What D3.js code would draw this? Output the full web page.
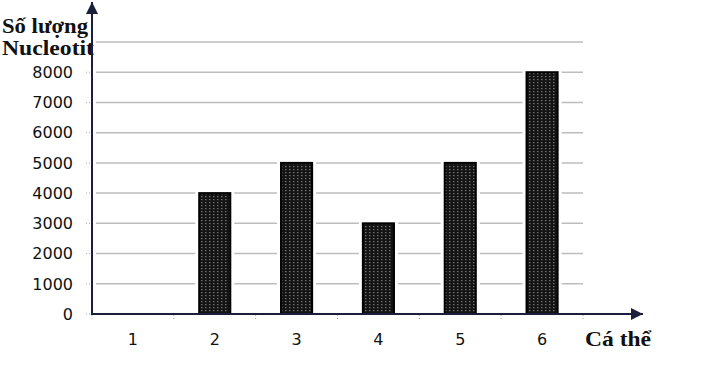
<!DOCTYPE html>
<html lang="vi">
<head>
    <meta charset="UTF-8">
    <title>Số lượng Nucleotit theo cá thể</title>
    <style>
        body { margin: 0; background: #fff; }
        svg { display: block; }
        .tick-label { font-family: "DejaVu Sans", sans-serif; font-size: 16px; fill: #111; }
        .title { font-family: "Liberation Serif", serif; font-weight: bold; font-size: 21px; fill: #111; }
    </style>
    <script src="https://d3js.org/d3.v7.min.js"></script>
</head>
<body>
    <svg width="712" height="368"></svg>
    <script>
        // data
        const categories = ["1", "2", "3", "4", "5", "6"];
        const values = [0, 4000, 5000, 3000, 5000, 8000];
        const yTicks = [0, 1000, 2000, 3000, 4000, 5000, 6000, 7000, 8000];
        const gridValues = [1000, 2000, 3000, 4000, 5000, 6000, 7000, 8000, 9000];

        const svg = d3.select("svg");
        const axisColor = "#1b1f3b";

        const x = d3.scaleBand().domain(categories).range([92, 583]).padding(0);
        const y = d3.scaleLinear().domain([0, 9000]).range([314, 42]);
        const barW = x.bandwidth() * 0.38;

        // pattern for the stippled bars
        const defs = svg.append("defs");
        const pat = defs.append("pattern")
            .attr("id", "dots")
            .attr("patternUnits", "userSpaceOnUse")
            .attr("width", 4)
            .attr("height", 3);
        pat.append("rect").attr("width", 4).attr("height", 3).attr("fill", "#141414");
        pat.append("rect").attr("x", 1).attr("y", 1).attr("width", 1.5).attr("height", 1.2).attr("fill", "#707070");

        defs.append("marker")
            .attr("id", "arrow")
            .attr("viewBox", "0 0 10 10")
            .attr("refX", 10).attr("refY", 5)
            .attr("markerWidth", 7).attr("markerHeight", 6)
            .attr("markerUnits", "strokeWidth")
            .attr("orient", "auto")
            .append("path")
            .attr("d", "M0,0 L10,5 L0,10 Z")
            .attr("fill", axisColor);

        // gridlines
        svg.append("g")
            .selectAll("line")
            .data(gridValues)
            .enter().append("line")
            .attr("x1", 96).attr("x2", 583)
            .attr("y1", d => y(d)).attr("y2", d => y(d))
            .attr("stroke", "#bdbdbd")
            .attr("stroke-width", 1.5);

        // little dashes left of the y axis
        svg.append("g")
            .selectAll("line")
            .data(yTicks)
            .enter().append("line")
            .attr("x1", 86).attr("x2", 91)
            .attr("y1", d => y(d)).attr("y2", d => y(d))
            .attr("stroke", "#aaa")
            .attr("stroke-dasharray", "1,2");

        // x tick marks between categories
        svg.append("g")
            .selectAll("line")
            .data(categories.concat(["end"]))
            .enter().append("line")
            .attr("x1", (d, i) => 92 + i * x.step()).attr("x2", (d, i) => 92 + i * x.step())
            .attr("y1", 315).attr("y2", 320)
            .attr("stroke", "#aaa")
            .attr("stroke-dasharray", "1,2");

        // bars, with a white halo so gridlines stop short of them
        const bars = svg.append("g")
            .selectAll("g")
            .data(values.map((v, i) => ({ cat: categories[i], v })).filter(d => d.v > 0))
            .enter().append("g");

        bars.append("rect")
            .attr("x", d => x(d.cat) + x.bandwidth() / 2 - barW / 2 - 4)
            .attr("width", barW + 8)
            .attr("y", d => y(d.v) - 1)
            .attr("height", d => y(0) - y(d.v) + 1)
            .attr("fill", "#fff");

        bars.append("rect")
            .attr("x", d => x(d.cat) + x.bandwidth() / 2 - barW / 2)
            .attr("width", barW)
            .attr("y", d => y(d.v))
            .attr("height", d => y(0) - y(d.v))
            .attr("fill", "url(#dots)")
            .attr("stroke", "#000")
            .attr("stroke-width", 2);

        // y tick labels
        svg.append("g")
            .selectAll("text")
            .data(yTicks)
            .enter().append("text")
            .attr("class", "tick-label")
            .attr("x", 73)
            .attr("y", d => y(d))
            .attr("dy", "0.36em")
            .attr("text-anchor", "end")
            .text(d => d);

        // x tick labels
        svg.append("g")
            .selectAll("text")
            .data(categories)
            .enter().append("text")
            .attr("class", "tick-label")
            .attr("x", d => x(d) + x.bandwidth() / 2)
            .attr("y", 345)
            .attr("text-anchor", "middle")
            .text(d => d);

        // titles
        svg.append("text").attr("class", "title")
            .attr("x", 2).attr("y", 33)
            .attr("textLength", 86).attr("lengthAdjust", "spacingAndGlyphs")
            .text("Số lượng");
        svg.append("text").attr("class", "title")
            .attr("x", 2).attr("y", 55)
            .attr("textLength", 92).attr("lengthAdjust", "spacingAndGlyphs")
            .text("Nucleotit");
        svg.append("text").attr("class", "title")
            .attr("x", 585).attr("y", 346)
            .attr("textLength", 66).attr("lengthAdjust", "spacingAndGlyphs")
            .text("Cá thể");

        // axes with arrows
        svg.append("line")
            .attr("x1", 92).attr("y1", y(0))
            .attr("x2", 92).attr("y2", 2)
            .attr("stroke", axisColor).attr("stroke-width", 2)
            .attr("marker-end", "url(#arrow)");
        svg.append("line")
            .attr("x1", 91).attr("y1", y(0))
            .attr("x2", 643).attr("y2", y(0))
            .attr("stroke", axisColor).attr("stroke-width", 2)
            .attr("marker-end", "url(#arrow)");
    </script>
</body>
</html>
